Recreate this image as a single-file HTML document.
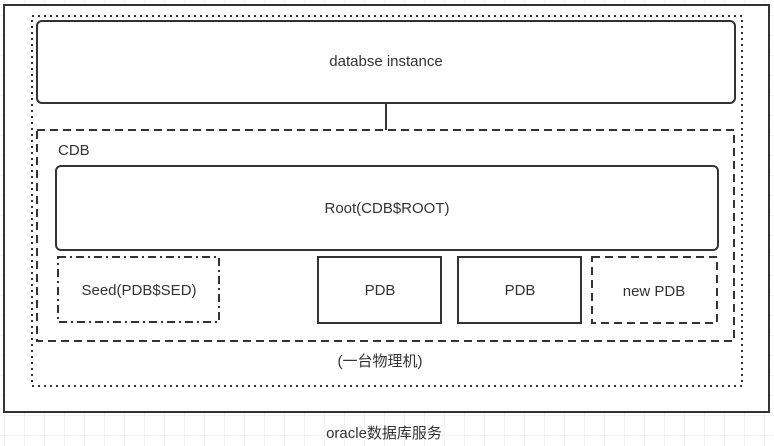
<!DOCTYPE html>
<html><head><style>
html,body{margin:0;padding:0;background:#fff;}
svg{display:block}
text{font-family:"Liberation Sans","Noto Sans CJK SC",sans-serif;font-size:15px;fill:#333;text-anchor:middle;dominant-baseline:middle}
</style></head><body>
<svg width="774" height="446" xmlns="http://www.w3.org/2000/svg">
<defs><pattern id="g" x="4" y="-5" width="20" height="20" patternUnits="userSpaceOnUse"><path d="M0 0V20M0 0H20" stroke="#e6e6e6" stroke-width="1" fill="none"/></pattern></defs>
<rect width="774" height="446" fill="url(#g)"/>
<rect x="4" y="5" width="765" height="407" fill="#fff" stroke="#333" stroke-width="2"/>
<rect x="32" y="16" width="710" height="370" fill="none" stroke="#333" stroke-width="2" stroke-dasharray="2 4"/>
<rect x="37" y="21" width="698" height="82" rx="5" fill="#fff" stroke="#333" stroke-width="2"/>
<text x="386" y="62">databse instance</text>
<line x1="386" y1="103" x2="386" y2="130" stroke="#333" stroke-width="2"/>
<rect x="37" y="130" width="697" height="211" fill="none" stroke="#333" stroke-width="2" stroke-dasharray="8 5"/>
<text x="58" y="151" style="text-anchor:start">CDB</text>
<rect x="56" y="166" width="662" height="84" rx="5" fill="#fff" stroke="#333" stroke-width="2"/>
<text x="387" y="209">Root(CDB$ROOT)</text>
<rect x="58" y="257" width="161" height="65" fill="none" stroke="#333" stroke-width="2" stroke-dasharray="8 4 2 4"/>
<text x="139" y="291">Seed(PDB$SED)</text>
<rect x="318" y="257" width="123" height="66" fill="none" stroke="#333" stroke-width="2"/>
<text x="380" y="291">PDB</text>
<rect x="458" y="257" width="123" height="66" fill="none" stroke="#333" stroke-width="2"/>
<text x="520" y="291">PDB</text>
<rect x="592" y="257" width="125" height="66" fill="none" stroke="#333" stroke-width="2" stroke-dasharray="8 5"/>
<text x="654" y="292">new PDB</text>
<text x="380" y="362">(一台物理机)</text>
<text x="384" y="434">oracle数据库服务</text>
</svg>
</body></html>
